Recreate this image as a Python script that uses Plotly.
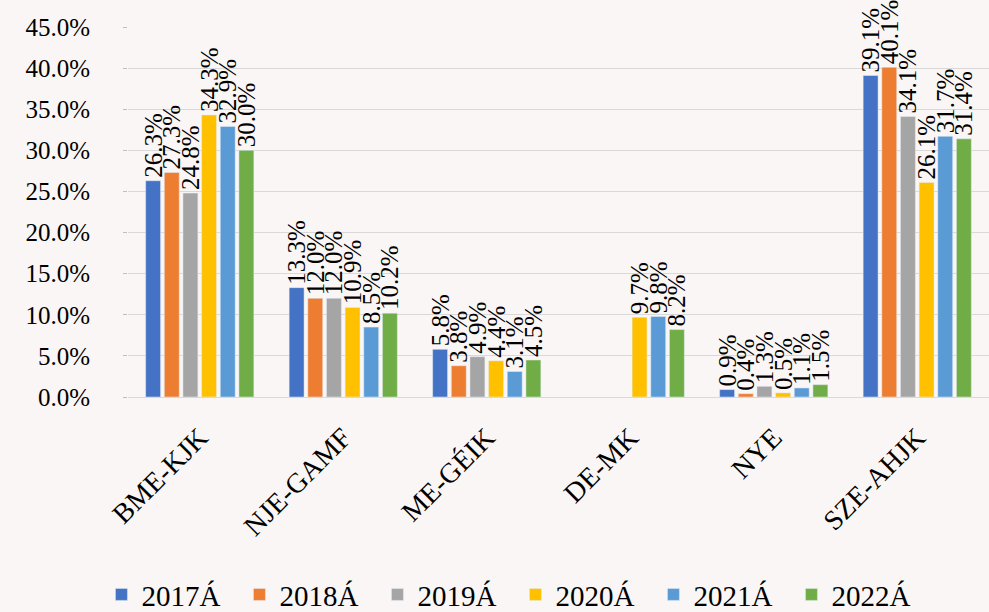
import plotly.graph_objects as go

categories = ["BME-KJK", "NJE-GAMF", "ME-GÉIK", "DE-MK", "NYE", "SZE-AHJK"]
series_names = ["2017Á", "2018Á", "2019Á", "2020Á", "2021Á", "2022Á"]
v2017 = [26.3, 13.3, 5.8, None, 0.9, 39.1]
v2018 = [27.3, 12.0, 3.8, None, 0.4, 40.1]
v2019 = [24.8, 12.0, 4.9, None, 1.3, 34.1]
v2020 = [34.3, 10.9, 4.4, 9.7, 0.5, 26.1]
v2021 = [32.9, 8.5, 3.1, 9.8, 1.1, 31.7]
v2022 = [30.0, 10.2, 4.5, 8.2, 1.5, 31.4]
series_values = [v2017, v2018, v2019, v2020, v2021, v2022]
colors = ["#4472C4", "#ED7D31", "#A5A5A5", "#FFC000", "#5B9BD5", "#70AD47"]
y_ticks = [0, 5, 10, 15, 20, 25, 30, 35, 40, 45]

FONT = "Liberation Serif"

fig = go.Figure()
for name, vals, col in zip(series_names, series_values, colors):
    fig.add_trace(go.Bar(
        x=categories, y=vals, name=name, marker_color=col,
        text=[("" if v is None else f"{v:.1f}%") for v in vals],
        textposition="outside", textangle=-90, constraintext="none",
        cliponaxis=False,
        textfont=dict(family=FONT, size=25, color="#000000"),
    ))

fig.update_layout(
    width=989, height=612,
    barmode="group", bargap=0.22, bargroupgap=0.2,
    paper_bgcolor="#faf6f5", plot_bgcolor="#faf6f5",
    margin=dict(l=128, r=0, t=27, b=215, autoexpand=False),
    font=dict(family=FONT, size=25, color="#000000"),
    showlegend=True,
    legend=dict(orientation="h", x=0.45, xanchor="center", y=-0.465, yanchor="top",
                font=dict(family=FONT, size=29), entrywidth=93,
                bgcolor="rgba(0,0,0,0)"),
)
fig.update_yaxes(range=[0, 45], tickvals=y_ticks,
                 ticktext=[f"{t:.1f}%" for t in y_ticks],
                 showgrid=True, gridcolor="#d9d9d9", gridwidth=1,
                 zeroline=False, ticks="outside", ticklen=4, tickcolor="#bfbfbf",
                 ticklabelstandoff=28, automargin=False,
                 tickfont=dict(family=FONT, size=25), showline=False)
fig.update_xaxes(tickangle=-45, tickfont=dict(family=FONT, size=28),
                 ticklabelstandoff=12, automargin=False,
                 showline=True, linecolor="#d9d9d9", ticks="")

fig.write_html("out.html", config={"displayModeBar": False},
               post_script="document.body.style.margin='0';")
